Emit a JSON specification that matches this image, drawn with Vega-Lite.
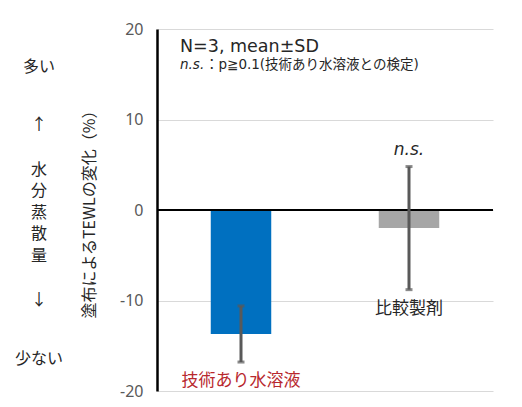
{
  "$schema": "https://vega.github.io/schema/vega-lite/v6.json",
  "padding": {"left": 5, "top": 21, "right": 5, "bottom": 5},
  "background": "white",
  "bounds": "flush",
  "spacing": 84,
  "config": {
    "view": {"stroke": null},
    "font": "Noto Sans CJK JP"
  },
  "datasets": {
    "side": [
      {"label": "多い", "level": 15.8},
      {"label": "↑", "level": 9.4},
      {"label": "↓", "level": -9.9},
      {"label": "少ない", "level": -16.5}
    ],
    "stack": [
      {"label": "水/分/蒸/散/量", "level": -0.3}
    ],
    "groups": [
      {"cat": "技術あり水溶液", "mean": -13.7, "lo": -16.8, "hi": -10.6, "sig": ""},
      {"cat": "比較製剤", "mean": -2.0, "lo": -8.8, "hi": 4.8, "sig": "n.s."}
    ]
  },
  "hconcat": [
    {
      "width": 68,
      "height": 362,
      "encoding": {
        "y": {"field": "level", "type": "quantitative", "scale": {"domain": [-20, 20], "nice": false}, "axis": null},
        "text": {"field": "label"}
      },
      "layer": [
        {
          "data": {"name": "side"},
          "mark": {"type": "text", "fontSize": 16, "color": "#262626"}
        },
        {
          "data": {"name": "stack"},
          "mark": {"type": "text", "fontSize": 16, "lineBreak": "/", "lineHeight": 21.5, "dy": -43, "color": "#262626"}
        }
      ]
    },
    {
      "width": 336,
      "height": 362,
      "data": {"name": "groups"},
      "encoding": {
        "x": {
          "field": "cat",
          "type": "nominal",
          "sort": null,
          "scale": {"paddingInner": 0.64, "paddingOuter": 0.32},
          "axis": null
        }
      },
      "layer": [
        {
          "mark": {"type": "bar"},
          "encoding": {
            "y": {
              "field": "mean",
              "type": "quantitative",
              "scale": {"domain": [-20, 20], "nice": false},
              "axis": {
                "values": [-20, -10, 0, 10, 20],
                "labelExpr": "'' + datum.value",
                "title": "塗布によるTEWLの変化（%）",
                "grid": true,
                "gridColor": "#d9d9d9",
                "ticks": false,
                "domainColor": "#000000",
                "domainWidth": 2.5,
                "labelFont": "Noto Sans",
                "labelFontSize": 16,
                "labelColor": "#595959",
                "labelPadding": 14,
                "titleFontSize": 16,
                "titleFontWeight": "normal",
                "titleColor": "#262626",
                "titlePadding": 22
              }
            },
            "color": {
              "field": "cat",
              "type": "nominal",
              "scale": {"domain": ["技術あり水溶液", "比較製剤"], "range": ["#0070c0", "#a6a6a6"]},
              "legend": null
            }
          }
        },
        {
          "data": {"values": [{}]},
          "mark": {"type": "rule", "color": "#000000", "strokeWidth": 2},
          "encoding": {"x": null, "y": {"datum": 0}}
        },
        {
          "mark": {"type": "rule", "color": "#595959", "strokeWidth": 3},
          "encoding": {
            "y": {"field": "lo", "type": "quantitative"},
            "y2": {"field": "hi"}
          }
        },
        {
          "mark": {"type": "tick", "color": "#595959", "thickness": 3, "size": 7},
          "encoding": {"y": {"field": "lo", "type": "quantitative"}}
        },
        {
          "mark": {"type": "tick", "color": "#595959", "thickness": 3, "size": 7},
          "encoding": {"y": {"field": "hi", "type": "quantitative"}}
        },
        {
          "mark": {"type": "text", "baseline": "middle", "dy": 19, "fontSize": 17},
          "encoding": {
            "y": {"field": "lo", "type": "quantitative"},
            "text": {"field": "cat"},
            "color": {"condition": {"test": "datum.cat === '技術あり水溶液'", "value": "#b8282e"}, "value": "#262626"}
          }
        },
        {
          "mark": {"type": "text", "baseline": "middle", "dy": -17, "fontSize": 17, "fontStyle": "italic", "font": "DejaVu Sans", "color": "#262626"},
          "encoding": {
            "y": {"field": "hi", "type": "quantitative"},
            "text": {"field": "sig"}
          }
        },
        {
          "data": {"values": [{"note": "N=3, mean±SD"}]},
          "mark": {"type": "text", "align": "left", "baseline": "middle", "dx": -61, "fontSize": 17.5, "font": "DejaVu Sans", "color": "#262626"},
          "encoding": {
            "x": {"datum": "技術あり水溶液"},
            "y": {"datum": 18},
            "text": {"field": "note"}
          }
        },
        {
          "data": {"values": [{"note": "n.s."}]},
          "mark": {"type": "text", "align": "left", "baseline": "middle", "dx": -61, "fontSize": 13.5, "fontStyle": "italic", "font": "DejaVu Sans", "color": "#262626"},
          "encoding": {
            "x": {"datum": "技術あり水溶液"},
            "y": {"datum": 16},
            "text": {"field": "note"}
          }
        },
        {
          "data": {"values": [{"note": "：p≧0.1(技術あり水溶液との検定)"}]},
          "mark": {"type": "text", "align": "left", "baseline": "middle", "dx": -36, "fontSize": 13.5, "font": "DejaVu Sans, Noto Sans CJK JP", "color": "#262626"},
          "encoding": {
            "x": {"datum": "技術あり水溶液"},
            "y": {"datum": 16},
            "text": {"field": "note"}
          }
        }
      ]
    }
  ]
}
